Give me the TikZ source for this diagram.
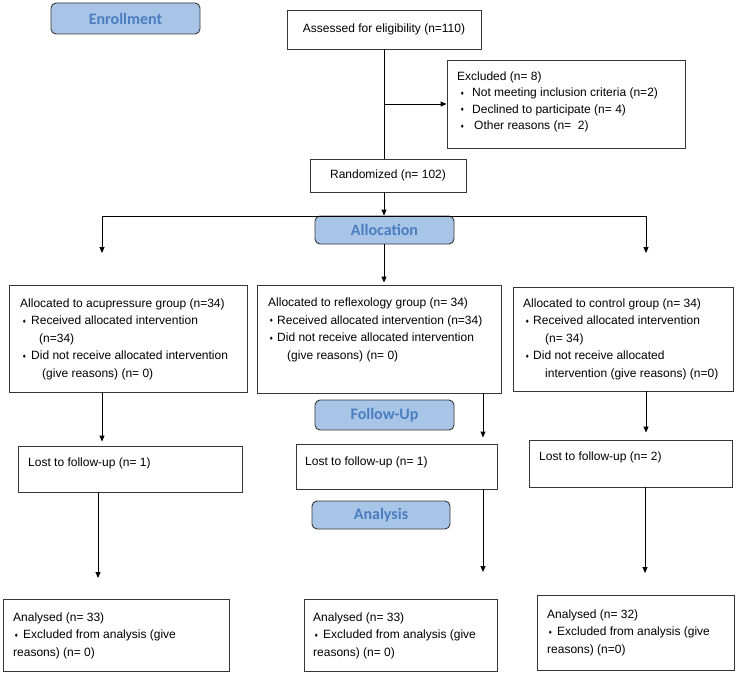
\documentclass[tikz,border=0pt]{standalone}
\usepackage{fontspec}
\setmainfont{Liberation Sans}
\newfontfamily\hdrfont{Carlito}
\newfontfamily\dejavu{DejaVu Sans}
\usetikzlibrary{arrows.meta,fit}
\definecolor{hdrfill}{RGB}{168,197,232}
\definecolor{hdrtext}{RGB}{74,126,192}
\definecolor{boxline}{RGB}{55,55,55}
\newcommand\bul[2]{\makebox[#1][l]{\hspace*{#2}\raisebox{1.6pt}{\dejavu\fontsize{5}{5}\selectfont ♦}}}
\tikzset{
  box/.style={draw=boxline, line width=0.9pt, inner sep=0pt, font=\fontsize{12}{14}\selectfont},
  hdr/.style={draw=boxline, line width=0.9pt, fill=hdrfill, rounded corners=5pt, inner sep=0pt,
    text=hdrtext, font=\hdrfont\bfseries\fontsize{16}{16}\selectfont},
  txt/.style={inner sep=0pt, anchor=north west, align=left, font=\fontsize{12}{17.5}\selectfont},
  one/.style={inner sep=0pt, anchor=west, font=\fontsize{12}{14}\selectfont},
  ln/.style={draw=black, line width=0.9pt},
  arr/.style={ln, -{Triangle[length=6pt,width=5pt]}},
}
\begin{document}
\begin{tikzpicture}[x=1pt,y=-1pt]
\useasboundingbox (0,0) rectangle (736,674);

% headers
\node[hdr, minimum width=149pt, minimum height=31pt] (enroll) at (125.5,18.5) {Enrollment};
\node[hdr, minimum width=139pt, minimum height=28pt] (alloc) at (384.5,230) {Allocation};
\node[hdr, minimum width=139pt, minimum height=30pt] (follow) at (384.5,415) {Follow-Up};
\node[hdr, minimum width=138pt, minimum height=28pt] (analysis) at (381,515) {Analysis};

% enrollment boxes
\node[box, minimum width=194pt, minimum height=39pt] (assess) at (384,29.5) {Assessed for eligibility (n=110)};
\node[box, minimum width=156pt, minimum height=33pt] (rand) at (388,175.5) {Randomized (n= 102)};
\node[box, fit={(447,60)(685,148)}] (excl) {};
\node[txt, font=\fontsize{12}{16.5}\selectfont] (excltxt) at (457,71.5) {Excluded (n= 8)\\
\bul{15pt}{3pt}Not meeting inclusion criteria (n=2)\\
\bul{15pt}{3pt}Declined to participate (n= 4)\\
\bul{17pt}{3pt}Other reasons (n=\ \ 2)};

% allocation boxes
\node[box, fit={(9,285)(247,392)}] (acup) {};
\node[txt] (acuptxt) at (20,298.5) {Allocated to acupressure group (n=34)\\
\bul{11pt}{2pt}Received allocated intervention\\
\hspace*{19pt}(n=34)\\
\bul{11pt}{2pt}Did not receive allocated intervention\\
\hspace*{22pt}(give reasons) (n= 0)};

\node[box, fit={(257,285)(501,393)}] (refl) {};
\node[txt] (refltxt) at (268,298) {Allocated to reflexology group (n= 34)\\
\bul{9pt}{1pt}Received allocated intervention (n=34)\\
\bul{9pt}{1pt}Did not receive allocated intervention\\
\hspace*{19pt}(give reasons) (n= 0)};

\node[box, fit={(513,287)(733,391)}] (ctrl) {};
\node[txt] (ctrltxt) at (523,298.5) {Allocated to control group (n= 34)\\
\bul{10pt}{2pt}Received allocated intervention\\
\hspace*{22pt}(n= 34)\\
\bul{10pt}{2pt}Did not receive allocated\\
\hspace*{22pt}intervention (give reasons) (n=0)};

% follow-up boxes
\node[box, fit={(18,446)(242,492)}] (lost1) {};
\node[one] (lost1txt) at (28,463) {Lost to follow-up (n= 1)};
\node[box, fit={(296,444)(497,489)}] (lost2) {};
\node[one] (lost2txt) at (305,462) {Lost to follow-up (n= 1)};
\node[box, fit={(529,440)(732,487)}] (lost3) {};
\node[one] (lost3txt) at (539,457) {Lost to follow-up (n= 2)};

% analysis boxes
\node[box, fit={(3,599)(229,671)}] (anal1) {};
\node[txt] (anal1txt) at (13,612.5) {Analysed (n= 33)\\
\bul{10pt}{1pt}Excluded from analysis (give\\
reasons) (n= 0)};
\node[box, fit={(304,599)(497,671)}] (anal2) {};
\node[txt] (anal2txt) at (313,612.5) {Analysed (n= 33)\\
\bul{10pt}{1pt}Excluded from analysis (give\\
reasons) (n= 0)};
\node[box, fit={(537,595)(734,670)}] (anal3) {};
\node[txt] (anal3txt) at (547,609.5) {Analysed (n= 32)\\
\bul{10pt}{1pt}Excluded from analysis (give\\
reasons) (n=0)};

% connector coordinates
\coordinate (vx) at (384,0);
\coordinate (br) at (384,104);
\coordinate (hl) at (102,216);
\coordinate (hr) at (646,216);
\coordinate (al) at (102,253);
\coordinate (ar) at (646,253);
\coordinate (e1) at (98,578);
\coordinate (x2) at (483,0);
\coordinate (e2) at (483,572);
\coordinate (e3) at (645,573);

% connectors
\draw[ln] (vx |- assess.south) -- (vx |- rand.north);
\draw[arr] (br) -- (br -| excl.west);
\draw[arr] (vx |- rand.south) -- (vx |- alloc.north);
\draw[ln] (hl) -- (hr);
\draw[arr] (hl) -- (al);
\draw[arr] (hr) -- (ar);
\draw[arr, shorten >=2pt] (vx |- alloc.south) -- (vx |- refl.north);
\draw[arr, shorten >=4pt] (hl |- acup.south) -- (hl |- lost1.north);
\draw[arr, shorten >=6pt] (x2 |- refl.south) -- (x2 |- lost2.north);
\draw[arr, shorten >=7pt] (hr |- ctrl.south) -- (hr |- lost3.north);
\draw[arr] (e1 |- lost1.south) -- (e1);
\draw[arr] (e2 |- lost2.south) -- (e2);
\draw[arr] (e3 |- lost3.south) -- (e3);
\end{tikzpicture}
\end{document}
